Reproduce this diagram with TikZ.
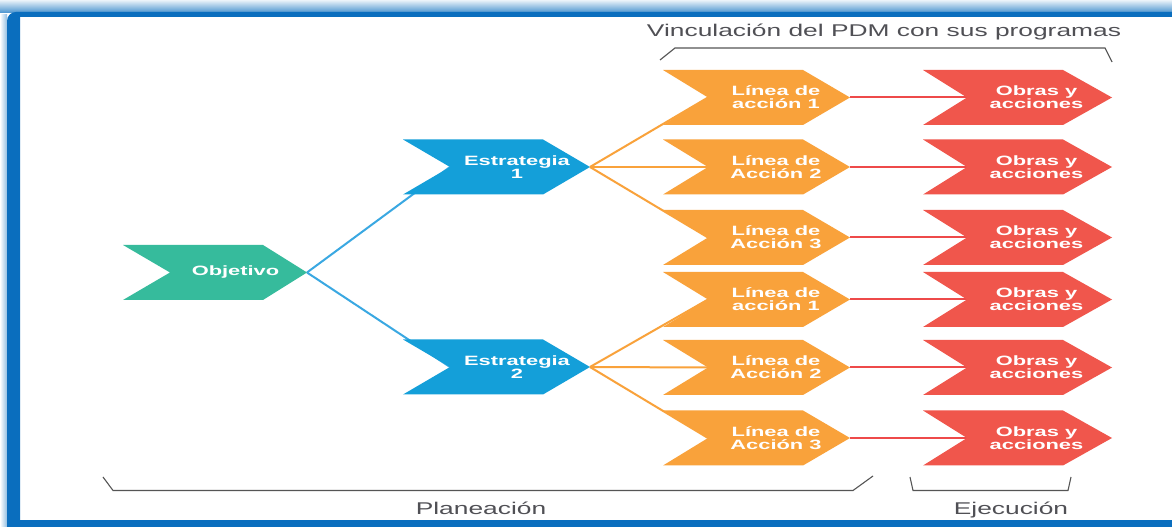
\documentclass[tikz,border=0pt]{standalone}
\usepackage{fontspec}
\setmainfont{Liberation Sans}
\newfontfamily\boxfont{Liberation Sans Bold}[FakeStretch=1.62]
\newfontfamily\grayfont{Liberation Sans}[FakeStretch=1.55]
\usetikzlibrary{backgrounds}
\definecolor{tealc}{HTML}{36BB9C}
\definecolor{bluec}{HTML}{149FD9}
\definecolor{orangec}{HTML}{F9A23B}
\definecolor{redc}{HTML}{F0564C}
\definecolor{blueline}{HTML}{3AA8E2}
\definecolor{redline}{HTML}{EE4A4A}
\definecolor{frameblue}{HTML}{0A6EBE}
\definecolor{graytext}{HTML}{505055}
\definecolor{bracketgray}{HTML}{555555}
% name, L, N, R, T, cy, colour, text
\newcommand\chev[8]{%
  \fill[#7] (#2,#6+27.5) -- (#4,#6+27.5) -- (#5,#6) -- (#4,#6-27.5) -- (#2,#6-27.5) -- (#3,#6) -- cycle;
  \coordinate (#1-n) at (#3,#6);
  \coordinate (#1-t) at (#5,#6);
  \node[lbl] (#1) at ({(#3+#5)/2-3},#6) {#8};
}
\begin{document}
\begin{tikzpicture}[x=1pt,y=1pt,
  lbl/.style={text=white, font=\boxfont\fontsize{13.5}{13}\selectfont, align=center, inner sep=0pt},
  captxt/.style={text=graytext, font=\grayfont\fontsize{17}{20}\selectfont, inner sep=0pt, anchor=base},
  brk/.style={draw=bracketgray, line width=1.1pt},
  conn/.style={line width=2pt}]
\useasboundingbox (0,0) rectangle (1172,527);
% chevrons
\chev{obj}{123}{170}{263}{307}{254.5}{tealc}{Objetivo}
\chev{e1}{403}{450}{543}{590}{360}{bluec}{Estrategia\\1}
\chev{e2}{403}{450}{543}{590}{160}{bluec}{Estrategia\\2}
\chev{l1}{663}{708}{803}{850}{429.5}{orangec}{Línea de\\acción 1}
\chev{l2}{663}{708}{803}{850}{360}{orangec}{Línea de\\Acción 2}
\chev{l3}{663}{708}{803}{850}{289.5}{orangec}{Línea de\\Acción 3}
\chev{l4}{663}{708}{803}{850}{227.5}{orangec}{Línea de\\acción 1}
\chev{l5}{663}{708}{803}{850}{159.5}{orangec}{Línea de\\Acción 2}
\chev{l6}{663}{708}{803}{850}{89}{orangec}{Línea de\\Acción 3}
\chev{o1}{923}{967}{1063}{1112}{429.5}{redc}{Obras y\\acciones}
\chev{o2}{923}{967}{1063}{1112}{360}{redc}{Obras y\\acciones}
\chev{o3}{923}{967}{1063}{1112}{289.5}{redc}{Obras y\\acciones}
\chev{o4}{923}{967}{1063}{1112}{227.5}{redc}{Obras y\\acciones}
\chev{o5}{923}{967}{1063}{1112}{159.5}{redc}{Obras y\\acciones}
\chev{o6}{923}{967}{1063}{1112}{89}{redc}{Obras y\\acciones}
\begin{scope}[on background layer]
  \fill[white] (0,0) rectangle (1172,527);
  % frame
  \shade[top color=frameblue!8, bottom color=frameblue!75] (0,514) rectangle (1172,527);
  \shade[left color=white, right color=frameblue!45] (0,0) rectangle (7,512);
  \fill[frameblue] (7,0) {[rounded corners=9pt] -- (7,515) -- (40,515)} -- (1172,515) -- (1172,510) -- (20,510) -- (20,0) -- cycle;
  \fill[frameblue] (7,0) rectangle (1172,7);
  % connectors
  \draw[conn, blueline] (obj-t) -- (e1-n);
  \draw[conn, blueline] (obj-t) -- (e2-n);
  \foreach \a in {l1,l2,l3} \draw[conn, orangec] (e1-t) -- (\a-n);
  \foreach \a in {l4,l5,l6} \draw[conn, orangec] (e2-t) -- (\a-n);
  \foreach \k in {1,...,6} \draw[conn, redline] (l\k-t) -- (o\k-n);
\end{scope}
% brackets
\draw[brk] (660,467) -- (675,479) -- (1105,479) -- (1112,465);
\draw[brk] (103,50) -- (113,36.5) -- (853,36.5) -- (873,51);
\draw[brk] (910,50) -- (913,36.5) -- (1068,36.5) -- (1071,50);
\node[captxt] (vinc) at (884,490) {Vinculación del PDM con sus programas};
\node[captxt] (plan) at (481,12) {Planeación};
\node[captxt] (ejec) at (1011,12) {Ejecución};
\end{tikzpicture}
\end{document}
